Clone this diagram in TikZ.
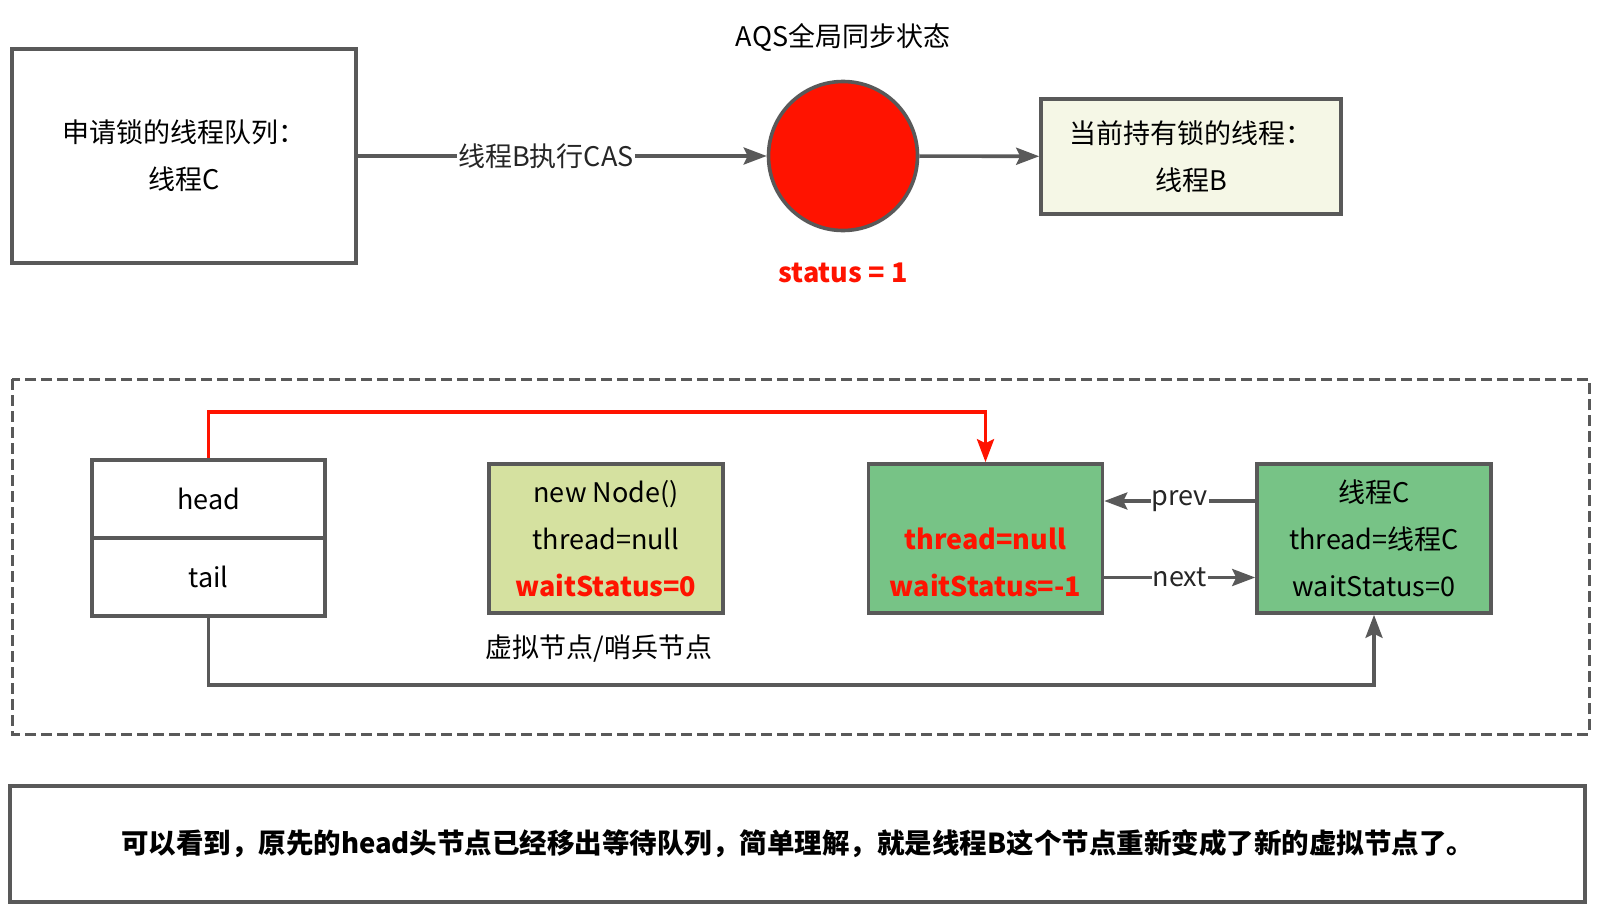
\documentclass[tikz,border=0pt]{standalone}
\usepackage{fontspec}
\setmainfont{Noto Sans CJK SC}
\usepackage{xcolor}
\usepackage{tikz}
\usetikzlibrary{arrows.meta, positioning}
\definecolor{edge}{HTML}{595959}
\definecolor{hot}{HTML}{FF1300}
\definecolor{ownerbg}{HTML}{F5F7E6}
\definecolor{dummybg}{HTML}{D5E1A0}
\definecolor{livebg}{HTML}{77C386}

\begin{document}
\begin{tikzpicture}[x=1pt, y=1pt, >={Stealth[length=23pt, width=17pt, inset=4pt]},
  font=\fontsize{27}{47}\selectfont, line width=3.6pt,
  blk/.style={draw=edge, align=center, inner sep=0pt},
  nd/.style={blk, minimum width=234pt, minimum height=149pt},
  hottxt/.style={text=hot, font=\fontsize{27}{47}\selectfont\bfseries},
  lbl/.style={fill=white, inner sep=1pt, text=black!85}]
\useasboundingbox (0,0) rectangle (1597,-907);
% top row
\node[blk, minimum width=344pt, minimum height=214pt] (queue) at (184,-156) {申请锁的线程队列：\\ 线程C};
\node[draw=edge, fill=hot, circle, minimum size=149pt] (state) at (843,-156) {};
\node (title) at (843,-37) {AQS全局同步状态};
\node[hottxt] (status) at (843,-273) {status = 1};
\node[blk, fill=ownerbg, minimum width=300pt, minimum height=115pt] (owner) at (1191,-156.5) {当前持有锁的线程：\\ 线程B};
\draw[->, edge] (queue) -- node[lbl, pos=0.46] {线程B执行CAS} (state);
\draw[->, edge] (state) -- (owner);
% wait queue
\draw[edge, line width=3pt, dash pattern=on 11pt off 5pt] (12,-379) rectangle (1589,-734);
\node[blk, minimum width=233pt, minimum height=78pt] (head) at (208.5,-499) {head};
\node[blk, minimum width=233pt, minimum height=78pt] (tail) at (208.5,-577) {tail};
\node[nd, fill=dummybg] (dummy) at (606,-538.5) {new Node()\\ thread=null\\ \textcolor{hot}{\bfseries waitStatus=0}};
\node[below=15pt of dummy, xshift=-7pt] (sentinel) {虚拟节点/哨兵节点};
\node[nd, fill=livebg] (nodeB) at (985.5,-538.5) {\phantom{thread}\\ \textcolor{hot}{\bfseries thread=null}\\ \textcolor{hot}{\bfseries waitStatus=-1}};
\node[nd, fill=livebg] (nodeC) at (1374,-538.5) {线程C\\ thread=线程C\\ waitStatus=0};
\coordinate (redtop) at (208.5,-412);
\coordinate (tailbot) at (208.5,-685);
\draw[->, draw=hot] (head.north) -- (redtop) -| (nodeB.north);
\draw[->, edge] (tail.south) -- (tailbot) -| (nodeC.south);
\draw[->, edge] ([yshift=37.5pt]nodeC.west) -- node[lbl] {prev} ([yshift=37.5pt]nodeB.east);
\draw[->, edge] ([yshift=-39pt]nodeB.east) -- node[lbl] {next} ([yshift=-39pt]nodeC.west);
% note
\node[blk, minimum width=1575pt, minimum height=116pt, font=\fontsize{27.5}{47}\selectfont\bfseries] (note) at (797.5,-844) {可以看到，原先的head头节点已经移出等待队列，简单理解，就是线程B这个节点重新变成了新的虚拟节点了。};
\end{tikzpicture}
\end{document}
